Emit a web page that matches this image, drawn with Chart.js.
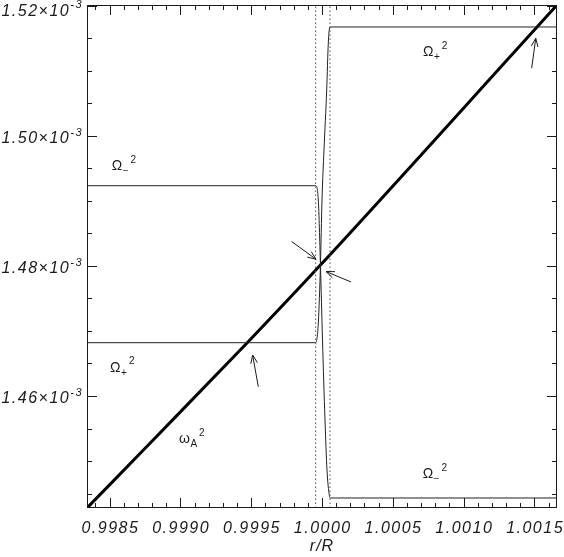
<!DOCTYPE html>
<html>
<head>
<meta charset="utf-8">
<script src="https://cdn.jsdelivr.net/npm/chart.js@4.4.1/dist/chart.umd.min.js"></script>
<style>
    html, body { margin: 0; padding: 0; background: #fff; }
    canvas { display: block; }
</style>
</head>
<body>
<canvas id="alfvenChart" width="564" height="557" style="width:564px;height:557px"></canvas>
<script>
// axis ranges (r/R and frequency squared in units of 10^-3)
const xMin = 0.99834, xMax = 1.00166;
const yMin = 1.44277, yMax = 1.52015;

const xMajorTicks = [0.9985, 0.9990, 0.9995, 1.0000, 1.0005, 1.0010, 1.0015];
const xTickLabels = ['0.9985', '0.9990', '0.9995', '1.0000', '1.0005', '1.0010', '1.0015'];
const yMajorTicks = [1.46, 1.48, 1.50, 1.52];
const yTickLabels = ['1.46', '1.48', '1.50', '1.52'];

// omega_A^2
const rOmegaA = [0.99834, 0.998797, 0.999472, 0.999989, 1.001519, 1.00166];
const omegaA2 = [1.44277, 1.45300, 1.4682, 1.48015, 1.51677, 1.52015];

// Omega_-^2
const rOmegaMinus = [0.99834, 0.999955, 0.999974, 0.999989, 1.0000035, 1.0000212, 1.0000353, 1.0000516, 1.0000615, 1.00166];
const omegaMinus2 = [1.49235, 1.49235, 1.49015, 1.48015, 1.46862, 1.45631, 1.44862, 1.44477, 1.44431, 1.44431];

// Omega_+^2
const rOmegaPlus = [0.99834, 0.999955, 0.999974, 0.999989, 1.0, 1.0000141, 1.0000332, 1.0000445, 1.0000565, 1.00166];
const omegaPlus2 = [1.4682, 1.4682, 1.47123, 1.48015, 1.49015, 1.49785, 1.50708, 1.51431, 1.51677, 1.51677];

// dotted boundaries
const rDotted = [0.999955, 1.0000565];

// arrows (tail -> tip)
const arrowTailR = [1.001481, 0.99955, 0.999785, 1.000205];
const arrowTailV = [1.51042, 1.46143, 1.48377, 1.47754];
const arrowTipR = [1.001510, 0.999510, 0.999958, 1.0000283];
const arrowTipV = [1.51503, 1.46631, 1.48103, 1.47915];

// curve labels
const curveLabels = [
    { r: 0.998515, v: 1.49477, main: 'Ω', sub: '−', sup: '2' },
    { r: 0.998503, v: 1.46374, main: 'Ω', sub: '+', sup: '2' },
    { r: 1.000713, v: 1.51231, main: 'Ω', sub: '+', sup: '2' },
    { r: 1.000711, v: 1.44738, main: 'Ω', sub: '−', sup: '2' },
    { r: 0.998990, v: 1.45272, main: 'ω', sub: 'A', sup: '2' }
];

function toPoints(xs, ys) {
    return xs.map((x, i) => ({ x: x, y: ys[i] }));
}

const ink = '#1a1a1a';
const tickFont = 'italic 16px "Liberation Sans"';
const expFont = 'italic 11px "Liberation Sans"';

function line(ctx, x1, y1, x2, y2) {
    ctx.beginPath();
    ctx.moveTo(x1, y1);
    ctx.lineTo(x2, y2);
    ctx.stroke();
}

const idlAxes = {
    id: 'idlAxes',
    afterDatasetsDraw(chart) {
        const ctx = chart.ctx;
        const a = chart.chartArea;
        const xs = chart.scales.x;
        const ys = chart.scales.y;
        ctx.save();
        ctx.strokeStyle = ink;
        ctx.fillStyle = ink;
        ctx.lineWidth = 1;

        // frame
        ctx.strokeRect(a.left + 0.5, a.top + 0.5, a.right - a.left - 1, a.bottom - a.top - 1);

        // x ticks, minor every 0.0001
        for (let k = Math.ceil(xMin * 1e4); k <= Math.floor(xMax * 1e4); k++) {
            const px = Math.round(xs.getPixelForValue(k / 1e4)) + 0.5;
            const len = k % 5 === 0 ? 10 : 5;
            line(ctx, px, a.bottom, px, a.bottom - len);
            line(ctx, px, a.top, px, a.top + len);
        }
        // y ticks, minor every 0.005
        for (let k = Math.ceil(yMin * 200); k <= Math.floor(yMax * 200); k++) {
            const py = Math.round(ys.getPixelForValue(k / 200)) + 0.5;
            const len = k % 4 === 0 ? 10 : 5;
            line(ctx, a.left, py, a.left + len, py);
            line(ctx, a.right, py, a.right - len, py);
        }

        // x tick labels
        ctx.font = tickFont;
        ctx.letterSpacing = '1.5px';
        ctx.textBaseline = 'alphabetic';
        ctx.textAlign = 'left';
        xMajorTicks.forEach((v, i) => {
            const w = ctx.measureText(xTickLabels[i]).width - 1.5;
            ctx.fillText(xTickLabels[i], xs.getPixelForValue(v) - w / 2, 533);
        });

        // y tick labels with x10^-3
        yMajorTicks.forEach((v, i) => {
            const py = ys.getPixelForValue(v);
            const base = Math.max(py + 7.5, 15.5);
            const mant = yTickLabels[i] + '×10';
            ctx.font = tickFont;
            const w1 = ctx.measureText(mant).width;
            ctx.font = expFont;
            const w2 = ctx.measureText('-3').width;
            const x0 = a.left - 4 - (w1 + w2);
            ctx.font = tickFont;
            ctx.fillText(mant, x0, base);
            ctx.font = expFont;
            ctx.fillText('-3', x0 + w1, base - 7.5);
        });

        // axis title
        ctx.font = 'italic 16px "Liberation Sans"';
        ctx.letterSpacing = '1px';
        ctx.textAlign = 'center';
        ctx.fillText('r/R', xs.getPixelForValue(1.0), 551);
        ctx.letterSpacing = '0px';
        ctx.textAlign = 'left';

        // arrows
        arrowTipR.forEach((r, i) => {
            const x1 = xs.getPixelForValue(arrowTailR[i]);
            const y1 = ys.getPixelForValue(arrowTailV[i]);
            const x2 = xs.getPixelForValue(r);
            const y2 = ys.getPixelForValue(arrowTipV[i]);
            const ang = Math.atan2(y2 - y1, x2 - x1);
            line(ctx, x1, y1, x2, y2);
            ctx.beginPath();
            ctx.moveTo(x2 - 9 * Math.cos(ang - 0.38), y2 - 9 * Math.sin(ang - 0.38));
            ctx.lineTo(x2, y2);
            ctx.lineTo(x2 - 9 * Math.cos(ang + 0.38), y2 - 9 * Math.sin(ang + 0.38));
            ctx.stroke();
        });

        // curve labels
        curveLabels.forEach(l => {
            let x = xs.getPixelForValue(l.r);
            const y = ys.getPixelForValue(l.v);
            ctx.font = '14px "Liberation Sans"';
            ctx.fillText(l.main, x, y);
            x += ctx.measureText(l.main).width + 0.5;
            ctx.font = '10px "Liberation Sans"';
            ctx.fillText(l.sub, x, y + 4);
            x += ctx.measureText(l.sub).width + 2;
            ctx.fillText(l.sup, x, y - 7.3);
        });

        ctx.restore();
    }
};

const ctx = document.getElementById('alfvenChart').getContext('2d');
const alfvenChart = new Chart(ctx, {
    type: 'line',
    data: {
        datasets: [
            {
                label: 'boundary 1',
                data: toPoints([rDotted[0], rDotted[0]], [yMin, yMax]),
                borderColor: '#555',
                borderWidth: 1,
                borderDash: [1.5, 2.5],
                tension: 0
            },
            {
                label: 'boundary 2',
                data: toPoints([rDotted[1], rDotted[1]], [yMin, yMax]),
                borderColor: '#555',
                borderWidth: 1,
                borderDash: [1.5, 2.5],
                tension: 0
            },
            {
                label: 'Omega_-^2',
                data: toPoints(rOmegaMinus, omegaMinus2),
                borderColor: '#222',
                borderWidth: 1,
                cubicInterpolationMode: 'monotone'
            },
            {
                label: 'Omega_+^2',
                data: toPoints(rOmegaPlus, omegaPlus2),
                borderColor: '#222',
                borderWidth: 1,
                cubicInterpolationMode: 'monotone'
            },
            {
                label: 'omega_A^2',
                data: toPoints(rOmegaA, omegaA2),
                borderColor: '#000',
                borderWidth: 3,
                cubicInterpolationMode: 'monotone'
            }
        ]
    },
    options: {
        responsive: false,
        animation: false,
        devicePixelRatio: 1,
        layout: {
            padding: { left: 87, right: 7, top: 5, bottom: 49 }
        },
        elements: {
            point: { radius: 0 }
        },
        scales: {
            x: { type: 'linear', min: xMin, max: xMax, display: false },
            y: { type: 'linear', min: yMin, max: yMax, display: false }
        },
        plugins: {
            legend: { display: false },
            tooltip: { enabled: false }
        }
    },
    plugins: [idlAxes]
});
</script>
</body>
</html>
